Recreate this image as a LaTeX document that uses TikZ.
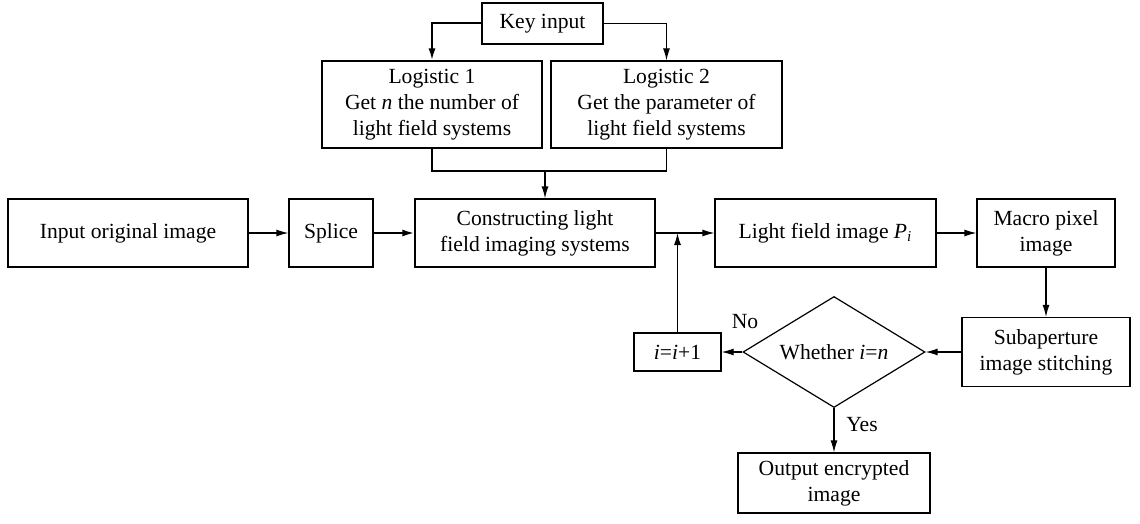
\documentclass[tikz,border=0pt]{standalone}
\usepackage{fontspec}
\setmainfont{Liberation Serif}
\usetikzlibrary{arrows.meta,positioning,shapes.geometric}

\begin{document}
\begin{tikzpicture}[x=0.5pt,y=-0.5pt,
  every node/.style={font=\fontsize{10.8}{13}\selectfont},
  box/.style={draw,line width=0.6pt,align=center,inner sep=0pt},
  test/.style={draw,diamond,line width=0.6pt,inner sep=0pt,shape aspect=1.64,minimum width=91pt,minimum height=55.5pt},
  flow/.style={-{Latex[length=6pt,width=3.5pt]},line width=0.6pt},
  heavy flow/.style={flow,line width=1pt}]
\useasboundingbox (0,0) rectangle (1140,524);
% boxes
\node[box,minimum width=60.5pt,minimum height=20.5pt] (key) at (542.5,23.5) {Key input};
\node[box,minimum width=110pt,minimum height=43.5pt] (log1) at (432,104.5) {Logistic 1\\Get \textit{n} the number of\\light field systems};
\node[box,minimum width=115.5pt,minimum height=43.5pt] (log2) at (666.5,104.5) {Logistic 2\\Get the parameter of\\light field systems};
\node[box,minimum width=120pt,minimum height=34pt] (input) at (128,233) {Input original image};
\node[box,minimum width=42pt,minimum height=34pt] (splice) at (331,233) {Splice};
\node[box,minimum width=120pt,minimum height=34pt] (cons) at (535,233) {Constructing light\\field imaging systems};
\node[box,minimum width=110.5pt,minimum height=34pt] (lfi) at (825.5,233) {Light field image \textit{P}\textsubscript{\textit{i}}};
\node[box,minimum width=69pt,minimum height=34pt] (macro) at (1046,233) {Macro pixel\\image};
\node[box,minimum width=84pt,minimum height=34.5pt] (sub) at (1046,352) {Subaperture\\image stitching};
\node[test] (dec) at (834,352) {Whether \textit{i}=\textit{n}};
\node[box,minimum width=43.5pt,minimum height=19pt] (inc) at (677.5,352) {\textit{i}=\textit{i}+1};
\node[box,minimum width=96pt,minimum height=30pt] (out) at (834,483) {Output encrypted\\image};
\node (no) at (745,322) {No};
\node (yes) at (862,425) {Yes};
% connectors
\coordinate (merge) at (545,171);
\coordinate (jn) at (inc.north |- cons.east);
\draw[heavy flow] (key.west) -| (log1.north);
\draw[flow] (key.east) -| (log2.north);
\draw[line width=0.6pt] (log1.south) |- (merge) -| (log2.south);
\draw[flow] (merge) -- (merge |- cons.north);
\draw[flow] (input) -- (splice);
\draw[heavy flow] (splice) -- (cons);
\draw[flow] (cons) -- (lfi);
\draw[flow] (inc.north) -- (jn);
\draw[flow] (lfi) -- (macro);
\draw[flow] (macro) -- (sub);
\draw[flow] (sub.west) -- (dec.east);
\draw[flow] (dec.west) -- (inc.east);
\draw[flow] (dec.south) -- (out.north);
\end{tikzpicture}
\end{document}
